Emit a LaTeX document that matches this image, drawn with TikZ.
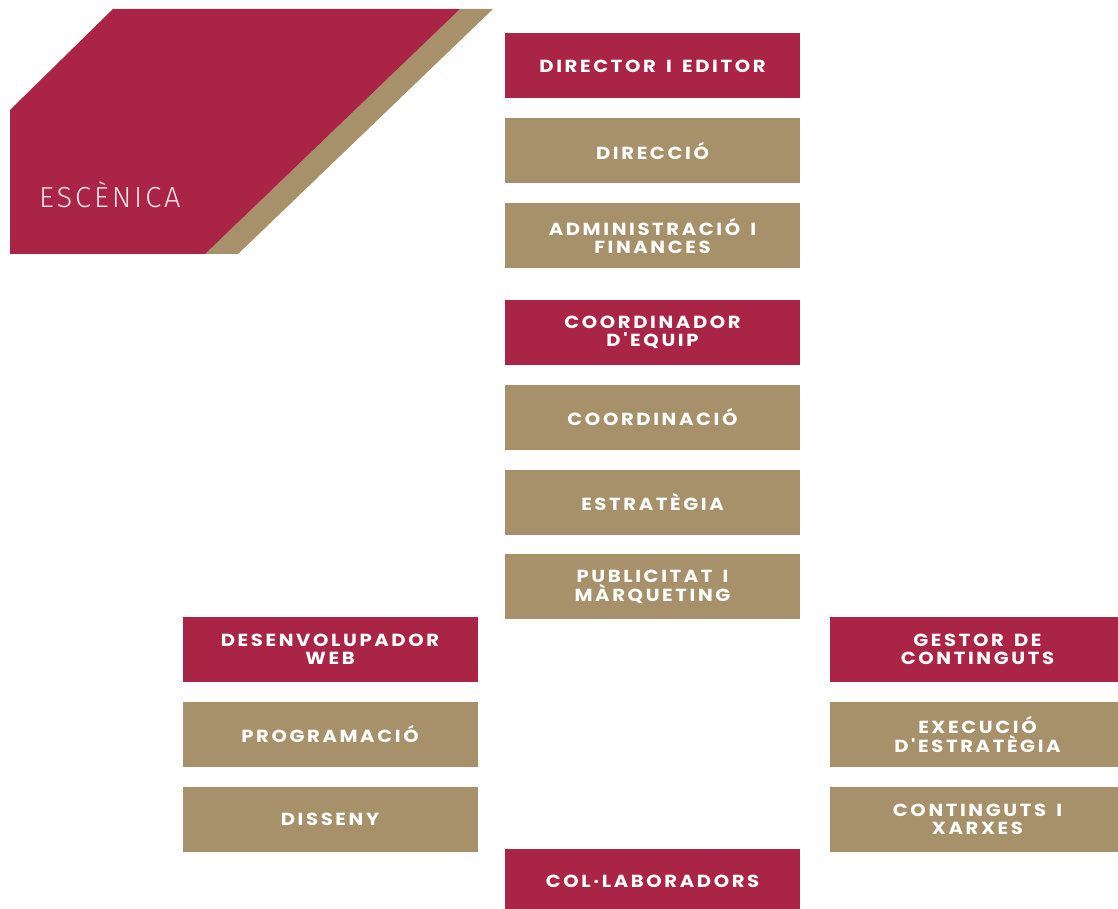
\documentclass[tikz,border=0pt]{standalone}
\usepackage{fontspec}
\usetikzlibrary{positioning}
\newfontfamily\boxfont{Poppins}[LetterSpace=15, WordSpace=1.5, FakeStretch=1.12, Ligatures=TeXOff]
\newfontfamily\logofont{Fira Sans Light}[LetterSpace=10]
\definecolor{escred}{RGB}{169,36,69}
\definecolor{escgold}{RGB}{166,145,106}
\definecolor{escpink}{RGB}{246,228,233}
\tikzset{
  labelfont/.style={font=\boxfont\bfseries\fontsize{17.5}{18.5}\selectfont},
  rolebox/.style={rectangle, fill=escred, text=white, align=center, minimum width=295pt, minimum height=65pt, inner sep=0pt, labelfont},
  taskbox/.style={rolebox, fill=escgold},
}
\begin{document}
\begin{tikzpicture}[x=1pt, y=-1pt, node distance=19.5pt]
  \useasboundingbox (0,0) rectangle (1118,909);
  \clip (0,0) rectangle (1118,909);
  % logo band
  \fill[escgold] (460,9) -- (493,9) -- (238,254) -- (205,254) -- cycle;
  \fill[escred] (113,9) -- (460,9) -- (205,254) -- (10,254) -- (10,110) -- cycle;
  \node[font=\logofont\fontsize{29}{30}\selectfont, text=escpink, anchor=west, inner sep=0pt] (logo) at (39,195) {ESCÈNICA};
  % central column
  \node[rolebox] (dir) at (652.5,66) {DIRECTOR I EDITOR};
  \node[taskbox, below=of dir] (direccio) {DIRECCIÓ};
  \node[taskbox, below=of direccio] (admin) {ADMINISTRACIÓ I\\FINANCES};
  \node[rolebox, below=31pt of admin] (coord) {COORDINADOR\\D'EQUIP};
  \node[taskbox, below=of coord] (coordinacio) {COORDINACIÓ};
  \node[taskbox, below=of coordinacio] (estrategia) {ESTRATÈGIA};
  \node[taskbox, below=of estrategia] (publi) {PUBLICITAT I\\MÀRQUETING};
  % left column
  \node[rolebox] (web) at (330,649.5) {DESENVOLUPADOR\\WEB};
  \node[taskbox, below=of web] (prog) {PROGRAMACIÓ};
  \node[taskbox, below=of prog] (disseny) {DISSENY};
  % right column
  \node[rolebox] (gestor) at (977.5,649.5) {GESTOR DE\\CONTINGUTS};
  \node[taskbox, below=of gestor] (execucio) {EXECUCIÓ\\D'ESTRATÈGIA};
  \node[taskbox, below=of execucio] (xarxes) {CONTINGUTS I\\XARXES};
  % bottom
  \node[rolebox] (collab) at (652.5,881.5) {COL·LABORADORS};
\end{tikzpicture}
\end{document}
